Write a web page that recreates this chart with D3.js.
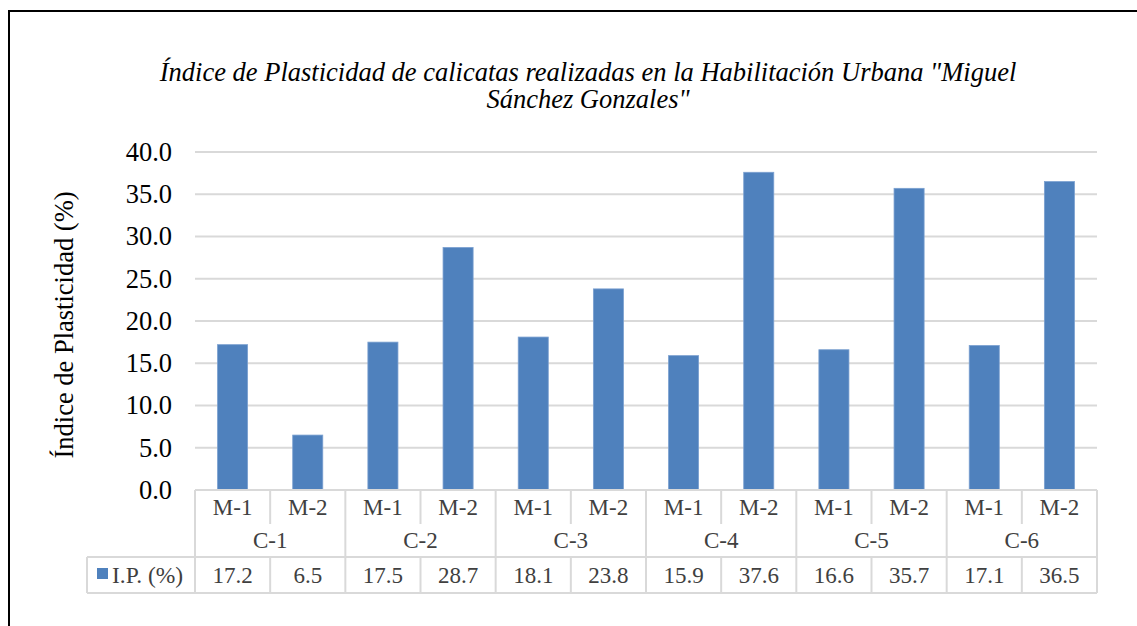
<!DOCTYPE html>
<html>
<head>
<meta charset="utf-8">
<script src="https://d3js.org/d3.v7.min.js"></script>
<style>
  body { margin: 0; background: #fff; }
  svg { display: block; }
</style>
</head>
<body>
<svg id="chart" width="1137" height="626"></svg>
<script>
// datos del gráfico
const calicatas = ["C-1", "C-2", "C-3", "C-4", "C-5", "C-6"];
const muestras = ["M-1", "M-2"];
const ipValores = [17.2, 6.5, 17.5, 28.7, 18.1, 23.8, 15.9, 37.6, 16.6, 35.7, 17.1, 36.5];
const yTicks = [0, 5, 10, 15, 20, 25, 30, 35, 40];
const serieNombre = "I.P. (%)";

// filas combinadas calicata / muestra
let filas = [];
calicatas.forEach(function(c, i) {
  muestras.forEach(function(m, j) {
    filas.push({ id: c + "|" + m, cal: c, mue: m, val: ipValores[i * muestras.length + j] });
  });
});

const svg = d3.select("#chart");
const font = "Liberation Serif";
const gris = "#d9d9d9";
const texto = "#404040";

// marco exterior
svg.append("path")
  .attr("d", "M9,626 V11 H1137")
  .attr("fill", "none")
  .attr("stroke", "#000")
  .attr("stroke-width", 2);

// título
svg.append("text")
  .attr("x", 588).attr("y", 81)
  .attr("text-anchor", "middle")
  .attr("font-family", font).attr("font-style", "italic").attr("font-size", 26.5)
  .text('Índice de Plasticidad de calicatas realizadas en la Habilitación Urbana "Miguel');
svg.append("text")
  .attr("x", 588).attr("y", 108)
  .attr("text-anchor", "middle")
  .attr("font-family", font).attr("font-style", "italic").attr("font-size", 26.5)
  .text('Sánchez Gonzales"');

const pLeft = 195, pRight = 1097, pTop = 152, pBottom = 490;

const x = d3.scaleBand()
  .domain(filas.map(d => d.id))
  .range([pLeft, pRight])
  .paddingInner(0.6)
  .paddingOuter(0.3);

const slot = d3.scaleBand()
  .domain(filas.map(d => d.id))
  .range([pLeft, pRight]);

const y = d3.scaleLinear().domain([0, 40]).range([pBottom, pTop]);

// rejilla
svg.append("g")
  .selectAll("line")
  .data(yTicks.filter(t => t > 0))
  .enter().append("line")
  .attr("x1", pLeft).attr("x2", pRight)
  .attr("y1", d => y(d)).attr("y2", d => y(d))
  .attr("stroke", gris).attr("stroke-width", 2);

// etiquetas eje y
const yAxis = svg.append("g")
  .attr("transform", "translate(" + pLeft + ",0)")
  .call(d3.axisLeft(y).tickValues(yTicks).tickFormat(d3.format(".1f")).tickSize(0).tickPadding(23));
yAxis.attr("font-family", font).attr("font-size", 26.5);
yAxis.select(".domain").remove();
yAxis.selectAll("text").attr("fill", "#000");

// título eje y
svg.append("text")
  .attr("transform", "translate(73,325) rotate(-90)")
  .attr("text-anchor", "middle")
  .attr("font-family", font).attr("font-size", 26.5)
  .text("Índice de Plasticidad (%)");

// barras
svg.append("g")
  .selectAll("rect")
  .data(filas)
  .enter().append("rect")
  .attr("x", d => x(d.id))
  .attr("width", x.bandwidth())
  .attr("y", d => y(d.val))
  .attr("height", d => y(0) - y(d.val))
  .attr("fill", "#4f81bd")
  .attr("stroke", "#7ba0d0")
  .attr("stroke-width", 0.8);

// tabla de datos
const r1 = 490, r2 = 524, r3 = 557, r4 = 593, legLeft = 87;
const tabla = svg.append("g")
  .attr("stroke", gris).attr("stroke-width", 2).attr("fill", "none");

// líneas horizontales
tabla.append("line").attr("x1", pLeft).attr("x2", pRight).attr("y1", r1).attr("y2", r1);
tabla.append("line").attr("x1", legLeft).attr("x2", pRight).attr("y1", r3).attr("y2", r3);
tabla.append("line").attr("x1", legLeft).attr("x2", pRight).attr("y1", r4).attr("y2", r4);
tabla.append("line").attr("x1", legLeft).attr("x2", legLeft).attr("y1", r3).attr("y2", r4);

// líneas verticales
filas.forEach(function(d, i) {
  let xl = slot(d.id);
  if (i % muestras.length === 0) {
    tabla.append("line").attr("x1", xl).attr("x2", xl).attr("y1", r1).attr("y2", r4);
  } else {
    tabla.append("line").attr("x1", xl).attr("x2", xl).attr("y1", r1).attr("y2", r2);
    tabla.append("line").attr("x1", xl).attr("x2", xl).attr("y1", r3).attr("y2", r4);
  }
});
tabla.append("line").attr("x1", pRight).attr("x2", pRight).attr("y1", r1).attr("y2", r4);

const txt = svg.append("g")
  .attr("font-family", font).attr("font-size", 23)
  .attr("fill", texto).attr("text-anchor", "middle");

// muestras
txt.selectAll(".mue")
  .data(filas)
  .enter().append("text")
  .attr("class", "mue")
  .attr("x", d => slot(d.id) + slot.bandwidth() / 2)
  .attr("y", 515)
  .text(d => d.mue);

// calicatas
txt.selectAll(".cal")
  .data(calicatas)
  .enter().append("text")
  .attr("class", "cal")
  .attr("x", (c, i) => slot(filas[i * 2].id) + slot.bandwidth())
  .attr("y", 548)
  .text(c => c);

// valores
txt.selectAll(".val")
  .data(filas)
  .enter().append("text")
  .attr("class", "val")
  .attr("x", d => slot(d.id) + slot.bandwidth() / 2)
  .attr("y", 583)
  .text(d => d.val.toFixed(1));

// leyenda
svg.append("rect")
  .attr("x", 97).attr("y", 568).attr("width", 11).attr("height", 11)
  .attr("fill", "#4f81bd");
svg.append("text")
  .attr("x", 112).attr("y", 583)
  .attr("font-family", font).attr("font-size", 23.5)
  .attr("fill", texto)
  .text(serieNombre);
</script>
</body>
</html>
